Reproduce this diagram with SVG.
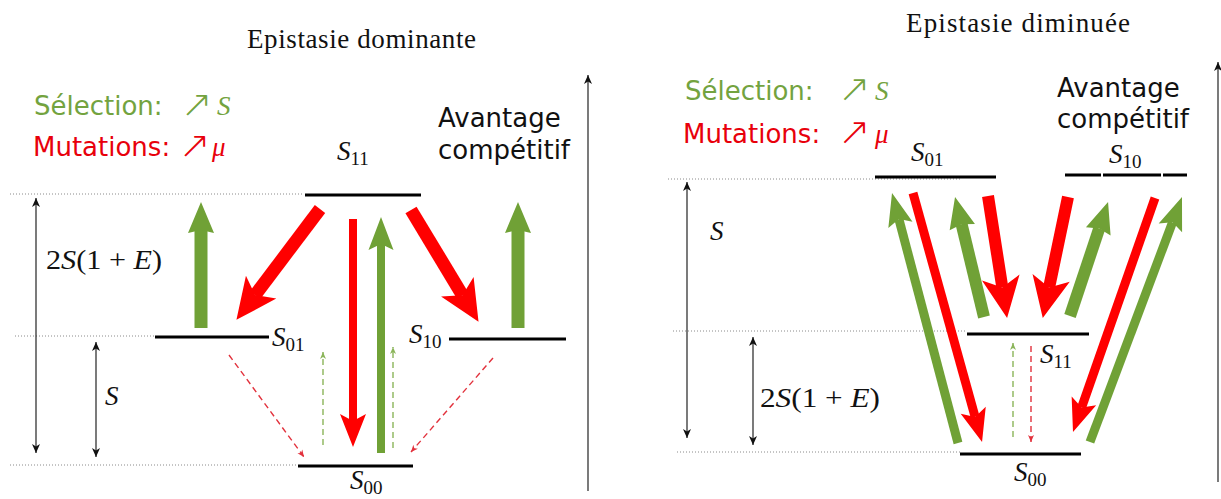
<svg xmlns="http://www.w3.org/2000/svg" width="1221" height="499" viewBox="0 0 1221 499">
<style>
.bg{fill:#fff}
.lvl{stroke:#000;stroke-width:3;fill:none}
.dot{stroke:#8a8a8a;stroke-width:1;stroke-dasharray:1 2;fill:none}
.ax{stroke:#222;stroke-width:1.2;fill:none}
.rf{stroke:#f00;fill:none}
.gf{stroke:#70a136;fill:none}
.rd{stroke:#e2313c;stroke-width:1.4;stroke-dasharray:6 4;fill:none}
.gd{stroke:#8bb55a;stroke-width:1.4;stroke-dasharray:6 4;fill:none}
.ttl{font-family:"Liberation Serif",serif;font-size:27px;fill:#111}
.m{font-family:"Liberation Serif",serif;font-size:27px;fill:#111}
.it{font-style:italic}
.sub{font-size:19px}
.sans{font-family:"DejaVu Sans","Noto Sans",sans-serif;font-size:26px}
.arr{font-family:"DejaVu Sans",sans-serif;font-weight:200}
.gt{fill:#73a33f}
.rt{fill:#e8000b}
</style>
<defs>
<marker id="mR1" markerUnits="userSpaceOnUse" orient="auto" overflow="visible" markerWidth="1" markerHeight="1"><path d="M31,0 L-10,19 L0,0 L-10,-19 Z" fill="#f00"/></marker>
<marker id="mR2" markerUnits="userSpaceOnUse" orient="auto" overflow="visible" markerWidth="1" markerHeight="1"><path d="M26,0 L-7,13 L0,0 L-7,-13 Z" fill="#f00"/></marker>
<marker id="mG1" markerUnits="userSpaceOnUse" orient="auto" overflow="visible" markerWidth="1" markerHeight="1"><path d="M28,0 L-3,13 L0,0 L-3,-13 Z" fill="#70a136"/></marker>
<marker id="mG2" markerUnits="userSpaceOnUse" orient="auto" overflow="visible" markerWidth="1" markerHeight="1"><path d="M27,0 L-6,12.5 L0,0 L-6,-12.5 Z" fill="#70a136"/></marker>
<marker id="mRd" markerUnits="userSpaceOnUse" orient="auto" overflow="visible" markerWidth="1" markerHeight="1"><path d="M0,0 L-7,-3 L-5,0 L-7,3 Z" fill="#e2313c"/></marker>
<marker id="mGd" markerUnits="userSpaceOnUse" orient="auto" overflow="visible" markerWidth="1" markerHeight="1"><path d="M0,0 L-7,-3 L-5,0 L-7,3 Z" fill="#8bb55a"/></marker>
<marker id="mAx" markerUnits="userSpaceOnUse" orient="auto-start-reverse" overflow="visible" markerWidth="1" markerHeight="1"><path d="M0,0 L-9,-4 L-6.5,0 L-9,4 Z" fill="#111"/></marker>
</defs>
<rect class="bg" x="0" y="0" width="1221" height="499"/>

<!-- ===== Left panel: Epistasie dominante ===== -->
<g id="left-title"><text class="ttl" x="247" y="48" textLength="229" lengthAdjust="spacing">Epistasie dominante</text></g>
<g id="left-legend">
<text class="sans gt" x="34" y="115">Sélection:</text>
<text class="arr gt" x="181" y="117" font-size="38">↗</text>
<text class="m it gt" x="217" y="115">S</text>
<text class="sans rt" x="33" y="156">Mutations:</text>
<text class="arr rt" x="179" y="158" font-size="38">↗</text>
<text class="m it rt" x="212" y="156">μ</text>
</g>
<g id="left-avantage">
<text class="sans" x="438" y="127" fill="#111">Avantage</text>
<text class="sans" x="438" y="159" fill="#111">compétitif</text>
</g>
<g id="left-guides">
<line class="dot" x1="10" y1="194" x2="303" y2="194"/>
<line class="dot" x1="15" y1="336" x2="155" y2="336"/>
<line class="dot" x1="10" y1="465" x2="298" y2="465"/>
</g>
<g id="left-S11"><line class="lvl" x1="305" y1="195" x2="421" y2="195"/>
<text class="m" x="337" y="160"><tspan class="it">S</tspan><tspan class="sub" dy="5">11</tspan></text></g>
<g id="left-S01"><line class="lvl" x1="155" y1="337" x2="269" y2="337"/>
<text class="m" x="272" y="346"><tspan class="it">S</tspan><tspan class="sub" dy="5">01</tspan></text></g>
<g id="left-S10"><line class="lvl" x1="449" y1="339" x2="566" y2="339"/>
<text class="m" x="409" y="343"><tspan class="it">S</tspan><tspan class="sub" dy="5">10</tspan></text></g>
<g id="left-S00"><line class="lvl" x1="298" y1="466" x2="413" y2="466"/>
<text class="m" x="350" y="489"><tspan class="it">S</tspan><tspan class="sub" dy="5">00</tspan></text></g>
<g id="left-scale">
<line class="ax" x1="36" y1="198" x2="36" y2="453" marker-start="url(#mAx)" marker-end="url(#mAx)"/>
<text class="m" x="46" y="269" textLength="116" lengthAdjust="spacingAndGlyphs">2<tspan class="it">S</tspan>(1 + <tspan class="it">E</tspan>)</text>
<line class="ax" x1="96" y1="342" x2="96" y2="457" marker-start="url(#mAx)" marker-end="url(#mAx)"/>
<text class="m it" x="105" y="405">S</text>
<line class="ax" x1="588" y1="491" x2="588" y2="75" marker-end="url(#mAx)"/>
</g>

<!-- ===== Right panel: Epistasie diminuée ===== -->
<g id="right-title"><text class="ttl" x="906" y="32" textLength="224" lengthAdjust="spacing">Epistasie diminuée</text></g>
<g id="right-legend">
<text class="sans gt" x="685" y="100" font-size="27">Sélection:</text>
<text class="arr gt" x="838" y="102" font-size="39">↗</text>
<text class="m it gt" x="875" y="100">S</text>
<text class="sans rt" x="683" y="143" font-size="27">Mutations:</text>
<text class="arr rt" x="838" y="145" font-size="39">↗</text>
<text class="m it rt" x="875" y="143">μ</text>
</g>
<g id="right-avantage">
<text class="sans" x="1057" y="97" font-size="27" fill="#111">Avantage</text>
<text class="sans" x="1057" y="128" font-size="27" fill="#111">compétitif</text>
</g>
<g id="right-guides">
<line class="dot" x1="668" y1="179" x2="960" y2="179"/>
<line class="dot" x1="673" y1="331" x2="967" y2="331"/>
<line class="dot" x1="677" y1="452" x2="960" y2="452"/>
</g>
<g id="right-S01"><line class="lvl" x1="875" y1="177" x2="996" y2="177"/>
<text class="m" x="911" y="161"><tspan class="it">S</tspan><tspan class="sub" dy="5">01</tspan></text></g>
<g id="right-S10">
<line class="lvl" x1="1065" y1="175" x2="1101" y2="175"/>
<line class="lvl" x1="1103" y1="175" x2="1161" y2="175"/>
<line class="lvl" x1="1163" y1="175" x2="1187" y2="175"/>
<text class="m" x="1109" y="163"><tspan class="it">S</tspan><tspan class="sub" dy="5">10</tspan></text></g>
<g id="right-S11"><line class="lvl" x1="967" y1="334" x2="1089" y2="334"/>
<text class="m" x="1040" y="363"><tspan class="it">S</tspan><tspan class="sub" dy="5">11</tspan></text></g>
<g id="right-S00"><line class="lvl" x1="960" y1="454" x2="1081" y2="454"/>
<text class="m" x="1014" y="481"><tspan class="it">S</tspan><tspan class="sub" dy="5">00</tspan></text></g>
<g id="right-scale">
<line class="ax" x1="687" y1="182" x2="687" y2="438" marker-start="url(#mAx)" marker-end="url(#mAx)"/>
<text class="m it" x="710" y="240">S</text>
<line class="ax" x1="753" y1="337" x2="753" y2="445" marker-start="url(#mAx)" marker-end="url(#mAx)"/>
<text class="m" x="760" y="407" textLength="120" lengthAdjust="spacingAndGlyphs">2<tspan class="it">S</tspan>(1 + <tspan class="it">E</tspan>)</text>
<line class="ax" x1="1218" y1="482" x2="1218" y2="62" marker-end="url(#mAx)"/>
</g>

<!-- ===== Connectors ===== -->
<g id="connectors">
<!-- left panel -->
<line class="gf" stroke-width="13" x1="201" y1="328" x2="201" y2="230" marker-end="url(#mG1)"/>
<line class="gf" stroke-width="13" x1="518" y1="328" x2="518" y2="230" marker-end="url(#mG1)"/>
<line class="rf" stroke-width="13" x1="320" y1="209" x2="255.1" y2="295.1" marker-end="url(#mR1)"/>
<line class="rf" stroke-width="13" x1="411" y1="210" x2="462.5" y2="295.3" marker-end="url(#mR1)"/>
<line class="rf" stroke-width="8" x1="353" y1="219" x2="353" y2="421" marker-end="url(#mR2)"/>
<line class="gf" stroke-width="8" x1="381" y1="453" x2="381" y2="244" marker-end="url(#mG2)"/>
<line class="rd" x1="229" y1="355" x2="304" y2="457" marker-end="url(#mRd)"/>
<line class="rd" x1="493" y1="358" x2="411" y2="452" marker-end="url(#mRd)"/>
<line class="gd" x1="323" y1="445" x2="323" y2="352" marker-end="url(#mGd)"/>
<line class="gd" x1="393" y1="448" x2="393" y2="347" marker-end="url(#mGd)"/>
<!-- right panel -->
<line class="gf" stroke-width="9" x1="958" y1="443" x2="898.9" y2="219.1" marker-end="url(#mG2)"/>
<line class="rf" stroke-width="9" x1="913" y1="193" x2="975.1" y2="416.9" marker-end="url(#mR2)"/>
<line class="gf" stroke-width="12" x1="984" y1="317" x2="961.6" y2="224.2" marker-end="url(#mG1)"/>
<line class="rf" stroke-width="12" x1="988" y1="196" x2="1002.3" y2="287.4" marker-end="url(#mR1)"/>
<line class="rf" stroke-width="12" x1="1068" y1="197" x2="1049.1" y2="287.6" marker-end="url(#mR1)"/>
<line class="gf" stroke-width="12" x1="1070" y1="316" x2="1099.2" y2="228.5" marker-end="url(#mG1)"/>
<line class="rf" stroke-width="9" x1="1155" y1="198" x2="1081.6" y2="407.5" marker-end="url(#mR2)"/>
<line class="gf" stroke-width="9" x1="1090" y1="442" x2="1172.5" y2="222.3" marker-end="url(#mG2)"/>
<line class="gd" x1="1013" y1="437" x2="1013" y2="343" marker-end="url(#mGd)"/>
<line class="rd" x1="1031" y1="346" x2="1031" y2="442" marker-end="url(#mRd)"/>
</g>
</svg>
